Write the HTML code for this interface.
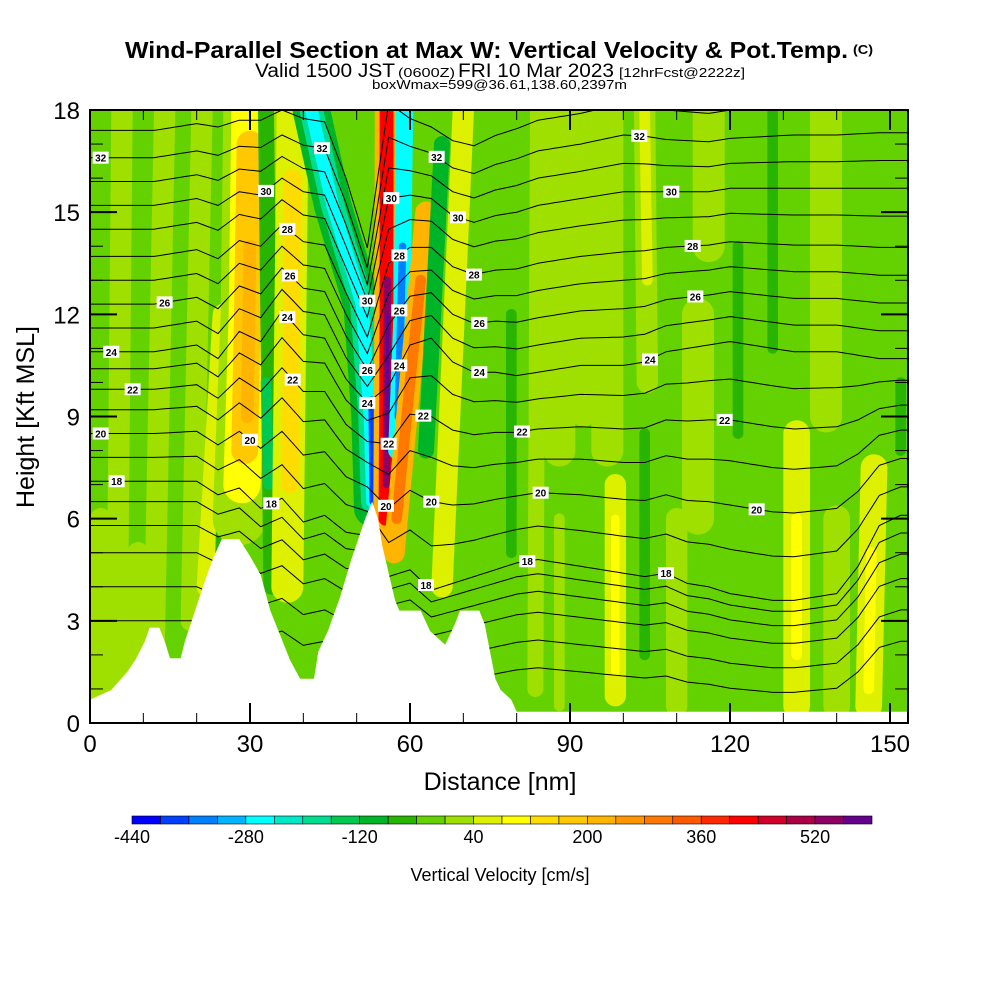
<!DOCTYPE html>
<html><head><meta charset="utf-8"><style>
body{margin:0;background:#fff;}
svg text{font-family:"Liberation Sans",sans-serif;}
</style></head><body>
<svg id="chart" width="1000" height="1000" viewBox="0 0 1000 1000" xmlns="http://www.w3.org/2000/svg">
<defs><clipPath id="plotclip"><rect x="90" y="110" width="818" height="613"/></clipPath></defs>
<g>
<text x="125" y="58" font-size="23" font-weight="bold" textLength="723" lengthAdjust="spacingAndGlyphs">Wind-Parallel Section at Max W: Vertical Velocity &amp; Pot.Temp.</text>
<text x="853" y="54" font-size="13" font-weight="bold" textLength="20" lengthAdjust="spacingAndGlyphs">(C)</text>
<text x="255" y="77" font-size="19" textLength="140" lengthAdjust="spacingAndGlyphs">Valid 1500 JST</text>
<text x="398" y="77" font-size="13" textLength="57" lengthAdjust="spacingAndGlyphs">(0600Z)</text>
<text x="458" y="77" font-size="19" textLength="156" lengthAdjust="spacingAndGlyphs">FRI 10 Mar 2023</text>
<text x="619" y="77" font-size="13" textLength="126" lengthAdjust="spacingAndGlyphs">[12hrFcst@2222z]</text>
<text x="372" y="89" font-size="13" textLength="255" lengthAdjust="spacingAndGlyphs">boxWmax=599@36.61,138.60,2397m</text>
</g>
<g id="plot" clip-path="url(#plotclip)">
<rect x="90" y="110" width="818" height="613" fill="#64d200"/>
<g id="wfield"></g><g id="contours"></g><path id="terrain" fill="#fff"/><g id="clabels"></g>
</g>
<rect x="90" y="110" width="818" height="613" fill="none" stroke="#000" stroke-width="2"/>
<g id="ticks"></g><g id="ticklabels"></g>
<text x="500" y="790" font-size="25" text-anchor="middle">Distance [nm]</text>
<text transform="translate(34,417) rotate(-90)" font-size="25" text-anchor="middle">Height [Kft MSL]</text>
<g id="colorbar"></g>
<text x="500" y="881" font-size="18" text-anchor="middle">Vertical Velocity [cm/s]</text>
</svg>
<script>
// ---- data ----
const cbColors=["#0000ff","#0040ff","#0080ff","#00b4ff","#00ffff","#00e8c8","#00dc90","#00c850","#00b428","#28b400","#64d200","#a0e000","#dcf000","#ffff00","#ffdc00","#ffc800","#ffb400","#ff9600","#ff7800","#ff5a00","#ff2800","#ff0000","#d20028","#aa0046","#8c0064","#64008c"];
const cbTickLabels=[-440,-280,-120,40,200,360,520];
const xTickLabels=[0,30,60,90,120,150];
const yTickLabels=[0,3,6,9,12,15,18];
const terrainX=[0,4,7,8.5,10.3,11.2,13,14,15,17,17.8,19.7,21.6,23,24.7,28,30,32,33.8,35.6,37.5,39.4,42,42.8,44.6,46.9,49,51.6,52.9,54,54.8,56.3,57.2,58,62,63.75,66.6,68.4,69.4,73,74,75,76,77,79,80,153.4];
const terrainZ=[0.68,0.97,1.5,1.85,2.4,2.8,2.8,2.4,1.9,1.9,2.4,3.3,4.2,4.8,5.4,5.4,4.9,4.35,3.3,2.6,1.85,1.3,1.3,2.1,2.7,3.7,4.8,6.0,6.5,6.0,5.2,4.2,3.6,3.3,3.3,2.7,2.3,2.9,3.3,3.3,2.9,2.1,1.3,0.97,0.68,0.33,0.33];
// stripes of vertical velocity: w value, half-width (nm), centerline points [nm,kft]
const stripeW=[0,0,0,0,0,0,0,0,0,0,40,-80,0,0,80,160,200,-80,-160,40,120,-120,-200,-280,-400,200,400,520,600,-280,-360,200,280,-120,40,0,-80,0,40,80,-80,0,40,-80,-80,40,80,40,80,0,0,-80];
const stripeHW=[3,3,3,3,3,2,2,2,2,2.5,2,1.5,2,5,3.5,2.5,1.2,1.5,1,3,1.6,3.5,2.2,1.2,0.6,2.2,1.3,0.7,0.3,1.6,0.7,2,1,1.5,2,1.5,1,1,2,0.8,1,2,1,1,1,2.5,1,2.5,1,2,2,1];
const stripePts=[
[[88,8],[88,18]],[[97,8],[97,18]],[[114,6],[114,12]],[[138,9],[138,18]],[[116,14],[116,18]],
[[5,1],[6,18]],[[12,2],[14,18]],[[19,3],[21,18]],[[1,0.5],[2,6]],[[140,0.5],[140,6]],
[[22,4],[25,12]],[[25,5],[27,18]],[[9,1],[9,5]],
[[28,6],[29.5,12],[30,18]],[[28.5,7],[29.5,12],[30,18]],[[29,8],[29.5,12],[30,17]],[[29.5,9],[30,14]],
[[34,4],[33,18]],[[33.5,7],[33,10]],[[37,4],[38,18]],[[37.5,7],[38,16]],
[[53,6.3],[52.5,9],[51,12.3],[45.5,15.2],[41.5,18]],[[53,6.5],[52.5,9],[51,12.3],[45.5,15.2],[41.5,18]],[[53,6.5],[52.5,9],[51,12.3],[45.5,15.2],[41.5,18]],[[53,6.5],[52.8,9.5]],
[[55.3,5.4],[55.5,12],[55.6,18]],[[55.4,6],[55.6,12],[55.6,18]],[[55.6,7],[55.8,13]],[[55.7,8],[55.8,12]],
[[57.5,8],[58.5,12],[59,18]],[[57.8,9],[58.6,14]],[[57,5],[60,10],[63,15]],[[57.5,6],[60,10],[62,13]],
[[63,8],[66,17]],[[66,4],[70,18]],
[[83.5,1],[84,18]],[[79,5],[79,12]],[[88,0.5],[88,6]],[[98.5,0.8],[98.5,7]],[[98.5,1.5],[98.5,6]],
[[104,2],[104,8.5]],[[104.5,10],[104,18]],[[104.5,13],[104,18]],[[121.5,8.5],[121.5,14]],[[128,11],[128,18]],
[[132.5,0.5],[132.5,8.5]],[[132.5,2],[132.5,6]],[[146,0.5],[147,7.5]],[[146,1],[146.5,5]],
[[110,0.5],[110,6]],[[92.5,9],[92.5,18]],[[152,8],[152,10]]];
// potential temperature contours
const thetaLevels=[13,14,15,16,17,18,19,20,21,22,23,24,25,26,27,28,29,30,31,32,33];
const thetaBase=[3.0,4.0,5.0,5.8,6.5,7.1,7.8,8.5,9.2,9.8,10.4,10.9,11.6,12.3,13.0,13.7,14.5,15.2,15.9,16.6,17.4];
const dispX=[0,4,8,12,16,20,24,28,32,36,40,44,48,52,56,60,64,68,72,76,80,84,88,92,96,100,104,108,112,116,120,124,128,132,136,140,144,148,152,154];
const disp18=[0,0,0,0,0,0,-0.4,-0.2,-0.8,-0.5,-1.2,-1.0,-1.5,-1.6,-2.8,-2.6,-3.2,-3.0,-2.8,-2.6,-2.4,-2.3,-2.4,-2.5,-2.6,-2.7,-2.8,-2.7,-3.0,-3.1,-3.3,-3.4,-3.5,-3.5,-3.4,-3.3,-2.5,-1.3,-1.0,-1.0];
const disp24=[0,0,0,0,0.1,0.2,-0.2,0.6,0.3,1.2,0.5,0.4,-0.8,-1.5,-1.0,0.2,0.4,-0.3,-0.6,-0.6,-0.7,-0.6,-0.5,-0.4,-0.4,-0.4,-0.3,0,0.1,0.2,0.3,0.2,0.1,0,0,0,-0.1,-0.2,-0.2,-0.2];
const disp30=[0,0,0,0,0.1,0.2,0,0.4,0.3,0.8,0.4,0.3,-1.2,-2.8,0.2,0.3,0.2,-0.3,-0.5,-0.3,-0.2,0,0.1,0.2,0.3,0.4,0.4,0.4,0.4,0.4,0.5,0.5,0.5,0.5,0.5,0.5,0.5,0.5,0.5,0.5];
const labelLevels=[32,24,22,20,18,26,30,28,26,24,22,20,18,32,30,26,24,30,28,26,24,22,20,22,20,18,32,30,28,26,24,22,20,18,32,30,28,26,24,22,20,18];
const labelX=[2,4,8,2,5,14,33,37,37.5,37,38,30,34,43.5,52,52,52,56.5,58,58,58,56,55.5,62.5,64,63,65,69,72,73,73,81,84.5,82,103,109,113,113.5,105,119,125,108];
// ---- scales ----
const X=d=>90+d*(800/150), Y=z=>723-z*(613/18);
const NS='http://www.w3.org/2000/svg';
function mk(tag,attrs,parent){const e=document.createElementNS(NS,tag);for(const k in attrs)e.setAttribute(k,attrs[k]);parent.appendChild(e);return e;}
function wColor(w){let i=Math.floor((w+440)/40);i=Math.max(0,Math.min(25,i));return cbColors[i];}
function interp(xs,ys,x){if(x<=xs[0])return ys[0];for(let i=1;i<xs.length;i++){if(x<=xs[i]){const t=(x-xs[i-1])/(xs[i]-xs[i-1]);return ys[i-1]+t*(ys[i]-ys[i-1]);}}return ys[ys.length-1];}
function thetaZ(li,x){const L=thetaLevels[li];const a=interp(dispX,disp18,x),b=interp(dispX,disp24,x),c=interp(dispX,disp30,x);let d;if(L<=24){d=a+(b-a)*(L-18)/6;}else{d=b+(c-b)*(L-24)/6;}if(L<18)d=a*(1-(18-L)*0.08);return thetaBase[li]+d;}
// w field
const wf=document.getElementById('wfield');
for(let s=0;s<stripeW.length;s++){
 const p=mk('polyline',{points:stripePts[s].map(q=>X(q[0])+','+Y(q[1])).join(' '),fill:'none',stroke:wColor(stripeW[s]),'stroke-width':stripeHW[s]*2*800/150,'stroke-linecap':'round','stroke-linejoin':'round'},wf);
 
 
}
// contours
const cg=document.getElementById('contours');
for(let li=0;li<thetaLevels.length;li++){
 let pts=[];for(let x=0;x<=154;x+=1){pts.push(X(x).toFixed(1)+','+Y(thetaZ(li,x)).toFixed(1));}
 const p=mk('polyline',{points:pts.join(' '),fill:'none',stroke:'#000','stroke-width':1},cg);
 
 
}
// terrain
let tp='M'+X(0)+','+Y(0);for(let i=0;i<terrainX.length;i++)tp+=' L'+X(terrainX[i]).toFixed(1)+','+Y(terrainZ[i]).toFixed(1);tp+=' L'+X(153.4)+','+Y(0)+' Z';
const ter=document.getElementById('terrain');ter.setAttribute('d',tp);


// contour labels
const lg=document.getElementById('clabels');
for(let i=0;i<labelLevels.length;i++){
 const li=thetaLevels.indexOf(labelLevels[i]);const cx=X(labelX[i]),cy=Y(thetaZ(li,labelX[i]));
 const g=mk('g',{},lg);
 
 
 mk('rect',{x:cx-8,y:cy-6,width:16,height:12,fill:'#fff'},g);
 mk('text',{x:cx,y:cy+4,'font-size':10,'text-anchor':'middle','font-weight':'bold'},g).textContent=labelLevels[i];
}
// ticks
const tg=document.getElementById('ticks');
for(let d=0;d<=150;d+=10){const major=d%30===0,l=major?20:10;
 const t1=mk('line',{x1:X(d),x2:X(d),y1:723,y2:723-l,stroke:'#000','stroke-width':major?2:1},tg);
 
 
 const t2=mk('line',{x1:X(d),x2:X(d),y1:110,y2:110+l,stroke:'#000','stroke-width':major?2:1},tg);
 
 }
for(let z=0;z<=18;z+=1){const major=z%3===0,l=major?27:13;
 const t1=mk('line',{x1:90,x2:90+l,y1:Y(z),y2:Y(z),stroke:'#000','stroke-width':major?2:1},tg);
 
 
 const t2=mk('line',{x1:908,x2:908-l,y1:Y(z),y2:Y(z),stroke:'#000','stroke-width':major?2:1},tg);
 
 }
const tl=document.getElementById('ticklabels');
xTickLabels.forEach(v=>{const t=mk('text',{x:X(v),y:752,'font-size':24,'text-anchor':'middle'},tl);t.textContent=v;
 
 });
yTickLabels.forEach(v=>{const t=mk('text',{x:80,y:Y(v)+9,'font-size':24,'text-anchor':'end'},tl);t.textContent=v;
 
 });
// colorbar
const cb=document.getElementById('colorbar');const bx0=132,bw=(872-132)/cbColors.length;
cbColors.forEach((c,i)=>{const r=mk('rect',{x:bx0+i*bw,y:816,width:bw,height:8,fill:c,stroke:'#000','stroke-width':0.6},cb);
 
 });
cbTickLabels.forEach(v=>{const t=mk('text',{x:bx0+(v+440)/40*bw,y:843,'font-size':18,'text-anchor':'middle'},cb);t.textContent=v;
 
 });
</script>
</body></html>
